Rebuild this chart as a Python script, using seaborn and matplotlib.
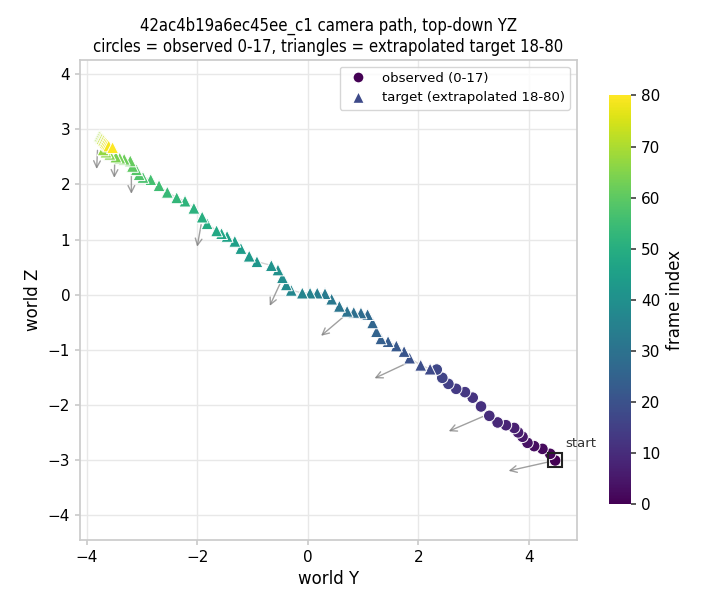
import matplotlib
matplotlib.use('Agg')
import numpy as np
import pandas as pd
import matplotlib.pyplot as plt
import seaborn as sns
from matplotlib.lines import Line2D

# observed camera positions, frames 0-17 (world Y, world Z)
obs_y = [4.47, 4.38, 4.24, 4.09, 3.97, 3.88, 3.80, 3.73, 3.58, 3.43, 3.28, 3.13,
         2.98, 2.84, 2.68, 2.54, 2.43, 2.33]
obs_z = [-3.01, -2.89, -2.80, -2.75, -2.69, -2.58, -2.50, -2.42, -2.37, -2.32, -2.20, -2.03,
         -1.87, -1.77, -1.71, -1.62, -1.51, -1.36]

# extrapolated target positions, frames 18-80
tgt_y = [2.21, 2.04, 1.84, 1.74, 1.60, 1.45, 1.32, 1.24, 1.17, 1.08,
         0.96, 0.83, 0.71, 0.57, 0.43, 0.31, 0.17, 0.04, -0.10, -0.30,
         -0.39, -0.46, -0.54, -0.66, -0.92, -1.06, -1.21, -1.32, -1.46, -1.56,
         -1.65, -1.82, -1.91, -2.06, -2.22, -2.37, -2.54, -2.69, -2.84, -2.98,
         -3.05, -3.10, -3.17, -3.21, -3.32, -3.40, -3.47, -3.58, -3.65, -3.70,
         -3.77, -3.76, -3.74, -3.73, -3.72, -3.70, -3.69, -3.67, -3.66, -3.64,
         -3.62, -3.60, -3.53]
tgt_z = [-1.35, -1.28, -1.15, -1.03, -0.93, -0.85, -0.80, -0.67, -0.51, -0.36,
         -0.33, -0.32, -0.30, -0.21, -0.08, 0.02, 0.03, 0.03, 0.03, 0.08,
         0.18, 0.31, 0.45, 0.53, 0.60, 0.70, 0.84, 0.97, 1.06, 1.11,
         1.16, 1.29, 1.41, 1.57, 1.70, 1.76, 1.86, 1.98, 2.09, 2.13,
         2.18, 2.27, 2.33, 2.43, 2.46, 2.48, 2.50, 2.55, 2.59, 2.63,
         2.88, 2.87, 2.86, 2.84, 2.83, 2.81, 2.80, 2.78, 2.76, 2.74,
         2.72, 2.70, 2.67]

# viewing direction arrows, every 10 frames
arrow_y0 = [4.47, 3.24, 1.84, 0.67, -0.47, -1.92, -3.19, -3.49, -3.80]
arrow_z0 = [-3.01, -2.18, -1.22, -0.38, 0.27, 1.32, 2.23, 2.45, 2.67]
arrow_y1 = [3.58, 2.50, 1.16, 0.20, -0.71, -2.01, -3.19, -3.50, -3.82]
arrow_z1 = [-3.21, -2.50, -1.54, -0.78, -0.25, 0.82, 1.78, 2.07, 2.23]

x_ticks = [-4, -2, 0, 2, 4]
y_ticks = [-4, -3, -2, -1, 0, 1, 2, 3, 4]
cbar_ticks = [0, 10, 20, 30, 40, 50, 60, 70, 80]


def generate_plot():
    sns.set_theme(style='whitegrid')
    plt.rcParams['grid.color'] = '#e8e8e8'
    plt.rcParams['axes.edgecolor'] = '#cccccc'
    for key in ['text.color', 'axes.labelcolor', 'xtick.color', 'ytick.color']:
        plt.rcParams[key] = 'black'

    df = pd.DataFrame({
        'y': obs_y + tgt_y,
        'z': obs_z + tgt_z,
        'frame': np.arange(len(obs_y) + len(tgt_y)),
    })
    df['kind'] = np.where(df['frame'] < len(obs_y), 'observed', 'target')
    cmap = plt.get_cmap('viridis')

    fig = plt.figure(figsize=(7.2, 6.12), dpi=100)
    ax = fig.add_axes([0.111, 0.118, 0.690, 0.784])
    cax = fig.add_axes([0.846, 0.176, 0.031, 0.668])

    ax.plot(df['y'], df['z'], color='gray', alpha=0.35, lw=1, zorder=1)

    sns.scatterplot(data=df[df['kind'] == 'observed'], x='y', y='z', hue='frame',
                    palette='viridis', hue_norm=(0, 80), marker='o', s=70,
                    edgecolor='white', linewidth=0.7, legend=False, ax=ax, zorder=3)
    sns.scatterplot(data=df[df['kind'] == 'target'], x='y', y='z', hue='frame',
                    palette='viridis', hue_norm=(0, 80), marker='^', s=75,
                    edgecolor='white', linewidth=0.7, legend=False, ax=ax, zorder=3)

    for y0, z0, y1, z1 in zip(arrow_y0, arrow_z0, arrow_y1, arrow_z1):
        ax.annotate('', xy=(y1, z1), xytext=(y0, z0),
                    arrowprops=dict(arrowstyle='->', color='gray', alpha=0.75, lw=1),
                    zorder=2)

    ax.plot(obs_y[0], obs_z[0], marker='s', markersize=10, mfc='none',
            mec='#222222', mew=1.5, zorder=4)
    ax.annotate('start', (obs_y[0], obs_z[0]), xytext=(7, 10), textcoords='offset points',
                fontsize=9.5, color='#333333')

    handles = [
        Line2D([], [], ls='', marker='o', color=cmap(0.0), mec='white', markersize=8,
               label='observed (0-17)'),
        Line2D([], [], ls='', marker='^', color=cmap(18 / 80), mec='white', markersize=8,
               label='target (extrapolated 18-80)'),
    ]
    ax.legend(handles=handles, loc='upper right', fontsize=9.5, frameon=True)

    ax.set_xlim(-4.12, 4.86)
    ax.set_ylim(-4.45, 4.26)
    ax.set_xticks(x_ticks)
    ax.set_yticks(y_ticks)
    ax.tick_params(left=True, bottom=True, length=3.5, color='#cccccc', labelsize=11)
    ax.set_xlabel('world Y', fontsize=12)
    ax.set_ylabel('world Z', fontsize=12)
    ax.set_title('42ac4b19a6ec45ee_c1 camera path, top-down YZ\n'
                 'circles = observed 0-17, triangles = extrapolated target 18-80',
                 fontsize=12, fontstretch='condensed')

    sm = plt.cm.ScalarMappable(cmap=cmap, norm=plt.Normalize(0, 80))
    cbar = fig.colorbar(sm, cax=cax)
    cbar.set_ticks(cbar_ticks)
    cbar.outline.set_visible(False)
    cax.tick_params(labelsize=11, right=True, length=3.5, color='#444444')
    cbar.set_label('frame index', fontsize=12)

    fig.savefig('out.png', dpi=100)


def main():
    generate_plot()


if __name__ == '__main__':
    main()
